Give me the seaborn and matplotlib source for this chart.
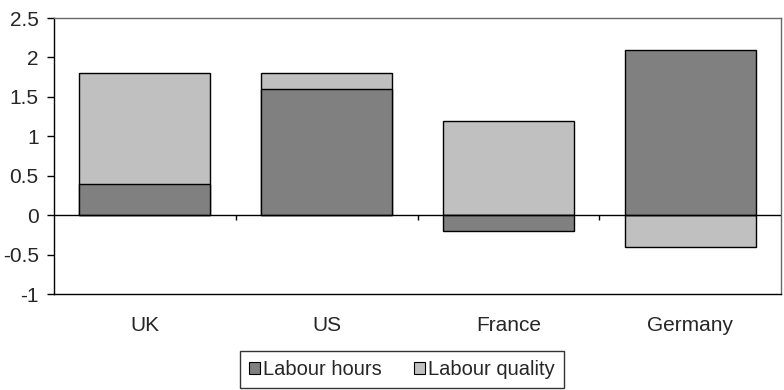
import numpy as np
import pandas as pd
import matplotlib.pyplot as plt
import seaborn as sns
from matplotlib.patches import Patch

countries = ["UK", "US", "France", "Germany"]
labour_hours = [0.4, 1.6, -0.2, 2.1]
labour_quality = [1.4, 0.2, 1.2, -0.4]
y_ticks = [-1, -0.5, 0, 0.5, 1, 1.5, 2, 2.5]
y_labels = ["-1", "-0.5", "0", "0.5", "1", "1.5", "2", "2.5"]

dark = "#808080"
light = "#c0c0c0"

sns.set_style("white")
plt.rcParams["font.family"] = ["Liberation Sans", "DejaVu Sans"]
plt.rcParams["font.size"] = 15

hours = np.array(labour_hours)
quality = np.array(labour_quality)
# quality sits on top of hours only when both point the same way
q_bottom = np.where(np.sign(hours) == np.sign(quality), hours, 0)
df = pd.DataFrame({
    "country": countries,
    "hours": hours,
    "quality_top": q_bottom + quality,
})

fig = plt.figure(figsize=(7.84, 3.9), dpi=100)
ax = fig.add_axes([54 / 784, 1 - 294 / 390, 727 / 784, 276 / 390])

# light bars first (full stack end), dark bars drawn over them
sns.barplot(data=df, x="country", y="quality_top", color=light, saturation=1,
            width=0.72, edgecolor="black", linewidth=1, ax=ax)
sns.barplot(data=df, x="country", y="hours", color=dark, saturation=1,
            width=0.72, edgecolor="black", linewidth=1, ax=ax)

ax.set_xlim(-0.5, len(countries) - 0.5)
ax.set_ylim(-1, 2.5)
ax.set_yticks(y_ticks)
ax.set_yticklabels(y_labels)
ax.set_xlabel("")
ax.set_ylabel("")

ax.axhline(0, color="black", linewidth=1, zorder=5)
# category divider ticks on the zero line
bounds = np.arange(len(countries) - 1) + 0.5
ax.vlines(bounds, 0, -0.06, color="black", linewidth=1, zorder=5)

ax.tick_params(axis="y", left=True, length=5, width=1, color="black",
               labelsize=15, pad=6)
ax.tick_params(axis="x", bottom=False, labelsize=15, pad=12)

for side in ["top", "right"]:
    ax.spines[side].set_color("#6a6a6a")
for side in ["left", "bottom"]:
    ax.spines[side].set_color("black")
for s in ax.spines.values():
    s.set_linewidth(1)

handles = [Patch(facecolor=dark, edgecolor="black", linewidth=0.8, label="Labour hours"),
           Patch(facecolor=light, edgecolor="black", linewidth=0.8, label="Labour quality")]
leg = fig.legend(handles=handles, loc="lower center", bbox_to_anchor=(402 / 784, 0.0),
                 ncol=2, frameon=True, fancybox=False, fontsize=14.5,
                 handlelength=0.55, handleheight=0.55, handletextpad=0.15,
                 columnspacing=1.6, borderpad=0.45, borderaxespad=0.1)
leg.get_frame().set_edgecolor("black")
leg.get_frame().set_linewidth(1)

fig.savefig("out.png", dpi=100)
